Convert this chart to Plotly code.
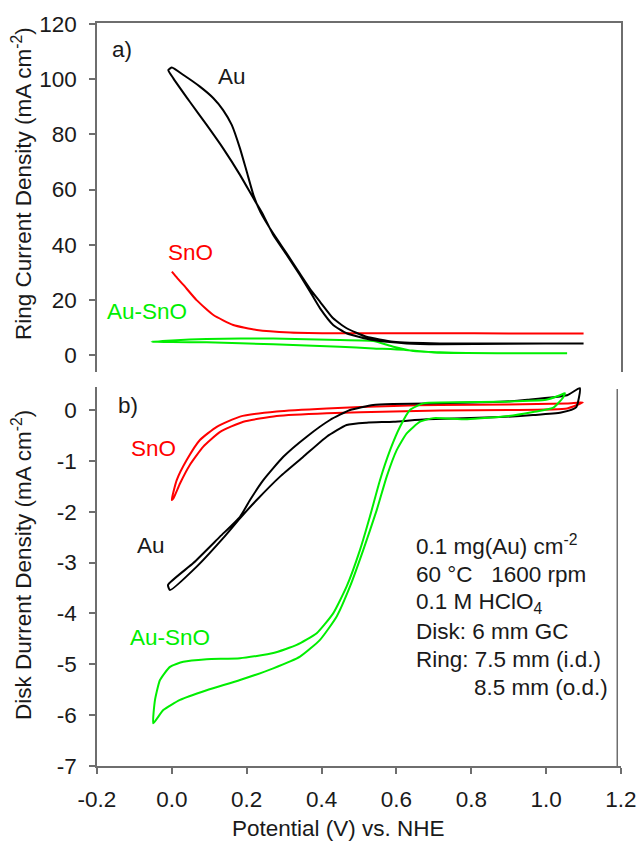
import plotly.graph_objects as go

# ---------------- ring current (panel a) ----------------
ring_au_v = [1.10, 0.90, 0.716, 0.627, 0.538, 0.467, 0.431, 0.396, 0.369, 0.342, 0.307,
             0.271, 0.244, 0.218, 0.182, 0.137, 0.093, 0.048, 0.004, -0.0095, 0.0,
             0.031, 0.075, 0.111, 0.137, 0.160, 0.182, 0.200, 0.218, 0.236, 0.271,
             0.307, 0.342, 0.369, 0.396, 0.431, 0.467, 0.520, 0.592, 0.716, 0.90, 1.10]
ring_au_j = [4.2, 4.1, 3.9, 4.2, 5.4, 7.9, 10.9, 16.9, 23.0, 29.0, 36.3,
             43.5, 50.8, 56.8, 65.3, 74.9, 83.4, 91.8, 100.3, 103.3, 104.2,
             101.5, 97.3, 93.1, 88.8, 83.4, 74.9, 66.5, 58.0, 52.0, 44.0,
             36.8, 29.5, 24.0, 19.3, 13.3, 9.7, 6.6, 4.8, 4.2, 4.2, 4.2]

ring_sno_v = [0.0, 0.015, 0.031, 0.066, 0.111, 0.164, 0.227, 0.316, 0.449, 0.716, 0.90, 1.10]
ring_sno_j = [30.2, 27.8, 25.4, 19.9, 14.5, 10.9, 9.1, 8.2, 7.9, 7.9, 7.8, 7.8]

ring_ausno_v = [-0.054, 0.0, 0.093, 0.271, 0.449, 0.538, 0.592, 0.645, 0.716, 0.788, 0.95, 1.056,
                0.95, 0.788, 0.70, 0.62, 0.538, 0.449, 0.271, 0.093, 0.0, -0.054]
ring_ausno_j = [4.8, 5.3, 5.8, 6.0, 5.4, 5.1, 3.0, 1.45, 1.0, 0.7, 0.6, 0.6,
                0.6, 0.7, 0.9, 1.9, 2.4, 3.0, 3.9, 4.6, 4.7, 4.8]

# ---------------- disk current (panel b) ----------------
disk_sno_v = [1.098, 1.056, 0.90, 0.716, 0.592, 0.414, 0.28, 0.182, 0.12, 0.075, 0.04,
              0.013, -0.0004, 0.004, 0.022, 0.048, 0.084, 0.129, 0.191, 0.28, 0.414,
              0.592, 0.716, 0.90, 1.056, 1.098]
disk_sno_j = [0.15, 0.13, 0.11, 0.10, 0.08, 0.03, -0.03, -0.13, -0.33, -0.59, -0.98,
              -1.38, -1.77, -1.74, -1.44, -1.08, -0.72, -0.43, -0.23, -0.12, -0.065,
              -0.03, -0.01, 0.0, 0.03, 0.15]

disk_au_v = [1.09, 1.056, 0.95, 0.877, 0.681, 0.592, 0.538, 0.476, 0.4225, 0.3603, 0.2978,
             0.2443, 0.2088, 0.182, 0.1286, 0.0573, -0.0103, -0.005, 0.0664, 0.137, 0.182,
             0.2267, 0.289, 0.3512, 0.4137, 0.467, 0.5206, 0.592, 0.681, 0.877, 0.965,
             1.04, 1.08, 1.09]
disk_au_j = [0.43, 0.29, 0.20, 0.16, 0.13, 0.118, 0.098, 0.0, -0.197, -0.525, -0.92,
             -1.38, -1.77, -2.10, -2.49, -3.01, -3.44, -3.54, -3.08, -2.52, -2.13,
             -1.77, -1.31, -0.92, -0.525, -0.295, -0.25, -0.23, -0.183, -0.14, -0.10,
             -0.05, 0.05, 0.43]

disk_ausno_v = [1.05, 1.037, 1.0, 0.877, 0.672, 0.636, 0.6096, 0.583, 0.556, 0.529, 0.5027,
                0.467, 0.431, 0.387, 0.3336, 0.271, 0.182, 0.093, 0.0306, -0.005, -0.0317,
                -0.045, -0.0496, -0.0229, 0.0218, 0.093, 0.182, 0.271, 0.3424, 0.3958,
                0.4404, 0.476, 0.5115, 0.5473, 0.574, 0.6007, 0.6275, 0.663, 0.6985,
                0.789, 0.90, 0.965, 1.018, 1.045, 1.05]
disk_ausno_j = [0.33, 0.29, 0.20, 0.16, 0.13, 0.0, -0.33, -0.79, -1.38, -2.10, -2.75,
                -3.47, -4.0, -4.39, -4.62, -4.78, -4.88, -4.90, -4.95, -5.05, -5.31,
                -5.70, -6.16, -5.90, -5.70, -5.51, -5.31, -5.08, -4.85, -4.52,
                -4.06, -3.47, -2.75, -1.97, -1.31, -0.79, -0.46, -0.23, -0.16,
                -0.18, -0.12, -0.04, 0.04, 0.24, 0.33]

x_ticks = [-0.2, 0.0, 0.2, 0.4, 0.6, 0.8, 1.0, 1.2]
x_tick_text = ["-0.2", "0.0", "0.2", "0.4", "0.6", "0.8", "1.0", "1.2"]
ring_ticks = [0, 20, 40, 60, 80, 100, 120]
disk_ticks = [0, -1, -2, -3, -4, -5, -6, -7]
disk_tick_text = ["0", "-1", "-2", "-3", "-4", "-5", "-6", "-7"]

RED = "#ff0000"
GREEN = "#00ee00"
BLACK = "#000000"
AXIS = "#6e6e6e"
TEXT = "#1a1a1a"
FONT = "Liberation Sans, Arial, sans-serif"
FS = 22.5
W, H = 637, 843

fig = go.Figure()

def curve(v, j, color, xa, ya):
    fig.add_trace(go.Scatter(x=v, y=j, mode="lines", xaxis=xa, yaxis=ya,
                             line=dict(color=color, width=2, shape="spline", smoothing=0.5),
                             showlegend=False, hoverinfo="skip"))

curve(ring_sno_v, ring_sno_j, RED, "x", "y")
curve(ring_ausno_v, ring_ausno_j, GREEN, "x", "y")
curve(ring_au_v, ring_au_j, BLACK, "x", "y")
curve(disk_sno_v, disk_sno_j, RED, "x2", "y2")
curve(disk_au_v, disk_au_j, BLACK, "x2", "y2")
curve(disk_ausno_v, disk_ausno_j, GREEN, "x2", "y2")

xdom = [97 / W, 621 / W]
tickfont = dict(family=FONT, size=FS, color=TEXT)

fig.update_layout(
    template="none",
    width=W, height=H, margin=dict(l=0, r=0, t=0, b=0, pad=0, autoexpand=False),
    paper_bgcolor="white", plot_bgcolor="white",
    font=dict(family=FONT, size=FS, color=TEXT),
    xaxis=dict(domain=xdom, range=[-0.2, 1.2], anchor="y", side="top", automargin=False,
               showline=True, linecolor=AXIS, linewidth=1.5, ticks="",
               showticklabels=False, showgrid=False, zeroline=False),
    yaxis=dict(domain=[1 - 372 / H, 1 - 23 / H], range=[-6.16, 120.36], anchor="x",
               automargin=False,
               tickvals=ring_ticks, ticks="outside", ticklen=6, tickcolor=AXIS,
               tickwidth=1.5, showline=True, mirror=True, linecolor=AXIS, linewidth=1.5,
               showgrid=False, zeroline=False, tickfont=tickfont, ticklabelstandoff=8),
    xaxis2=dict(domain=xdom, range=[-0.2, 1.2], anchor="y2", automargin=False,
                tickvals=x_ticks, ticktext=x_tick_text, ticks="outside", ticklen=6,
                tickcolor=AXIS, tickwidth=1.5, showline=True, linecolor=AXIS,
                linewidth=1.5, showgrid=False, zeroline=False, tickfont=tickfont,
                ticklabelstandoff=6),
    yaxis2=dict(domain=[1 - 766 / H, 1 - 387 / H], range=[-7, 0.452], anchor="x2",
                automargin=False,
                tickvals=disk_ticks, ticktext=disk_tick_text, ticks="outside", ticklen=6,
                tickcolor=AXIS, tickwidth=1.5, showline=True, linecolor=AXIS,
                linewidth=1.5, showgrid=False, zeroline=False, tickfont=tickfont,
                ticklabelstandoff=8),
)

# right-hand frame line of panel b
fig.add_shape(type="line", xref="x2", yref="y2 domain", x0=1.19, x1=1.19, y0=0, y1=0.995,
              line=dict(color=AXIS, width=1.5))

def label(text, x, y, color, xa="x", ya="y", xanchor="center"):
    fig.add_annotation(text=text, x=x, y=y, xref=xa, yref=ya, showarrow=False,
                       xanchor=xanchor, yanchor="middle",
                       font=dict(family=FONT, size=FS, color=color))

label("a)", -0.133, 110.6, TEXT)
label("Au", 0.161, 100.8, TEXT)
label("SnO", 0.0485, 37.3, RED)
label("Au-SnO", -0.066, 15.6, GREEN)

label("b)", -0.117, 0.079, TEXT, "x2", "y2")
label("SnO", -0.048, -0.767, RED, "x2", "y2")
label("Au", -0.056, -2.674, TEXT, "x2", "y2")
label("Au-SnO", -0.005, -4.48, GREEN, "x2", "y2")

info_lines = [
    ("0.1 mg(Au) cm<sup>-2</sup>", 0.647, -2.654),
    ("60 °C   1600 rpm", 0.647, -3.225),
    ("0.1 M HClO<sub>4</sub>", 0.647, -3.795),
    ("Disk: 6 mm GC", 0.647, -4.365),
    ("Ring: 7.5 mm (i.d.)", 0.647, -4.915),
    ("8.5 mm (o.d.)", 0.802, -5.466),
]
for t, x, y in info_lines:
    label(t, x, y, TEXT, "x2", "y2", xanchor="left")

# axis titles
fig.add_annotation(text="Ring Current Density (mA cm<sup>-2</sup>)", x=22 / W, y=1 - 184 / H,
                   xref="paper", yref="paper", showarrow=False, textangle=-90,
                   xanchor="center", yanchor="middle", font=dict(family=FONT, size=FS, color=TEXT))
fig.add_annotation(text="Disk Durrent Density (mA cm<sup>-2</sup>)", x=22 / W, y=1 - 565 / H,
                   xref="paper", yref="paper", showarrow=False, textangle=-90,
                   xanchor="center", yanchor="middle", font=dict(family=FONT, size=FS, color=TEXT))
fig.add_annotation(text="Potential (V) vs. NHE", x=338 / W, y=0,
                   xref="paper", yref="paper", showarrow=False,
                   xanchor="center", yanchor="bottom", font=dict(family=FONT, size=FS, color=TEXT))

fig.write_html("out.html")
